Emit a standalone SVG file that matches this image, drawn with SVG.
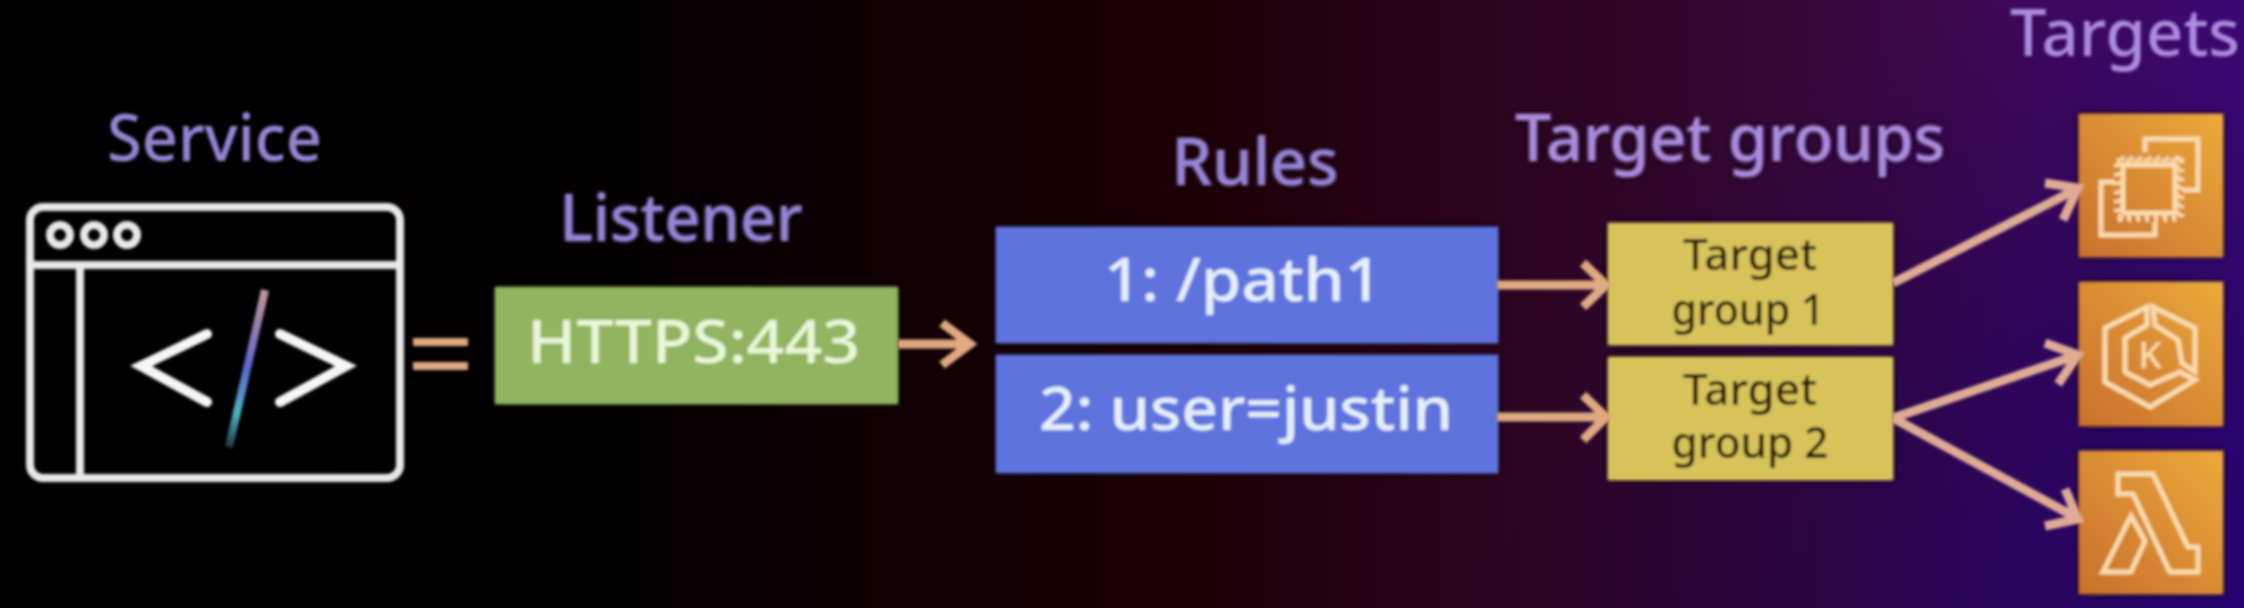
<svg xmlns="http://www.w3.org/2000/svg" width="2244" height="608" viewBox="0 0 2244 608">
<style>
text{font-family:"Noto Sans","Open Sans","Liberation Sans",sans-serif;text-anchor:middle}
.h{font-size:65px;font-weight:500;fill:#9484d4}
.hr{fill:#a98bdc}
.l{font-size:60px;font-weight:500;fill:#e6f0fb}
.t{font-size:43px;font-weight:500;fill:#1e1906}
.w{fill:none;stroke:#e8e8e8;stroke-width:8}
.c{fill:none;stroke:#f6f6f6;stroke-width:10;stroke-linecap:round;stroke-linejoin:miter}
.a{fill:none;stroke:#dfa981;stroke-width:9}
.i{fill:none;stroke:#fbdcae;stroke-width:5}
</style>
<defs>
<linearGradient id="bg" x1="0" y1="0" x2="1" y2="0">
<stop offset="0" stop-color="#000"/>
<stop offset=".27" stop-color="#030001"/>
<stop offset=".4" stop-color="#0f0003"/>
<stop offset=".53" stop-color="#1d0006"/>
<stop offset=".67" stop-color="#2b041e"/>
<stop offset=".8" stop-color="#360838"/>
<stop offset=".89" stop-color="#3d0855"/>
<stop offset="1" stop-color="#3e0876"/>
</linearGradient>
<radialGradient id="shade" gradientUnits="userSpaceOnUse" cx="2244" cy="608" r="800" gradientTransform="translate(2244 608) scale(1 .8) translate(-2244 -608)">
<stop offset="0" stop-color="#120070" stop-opacity=".55"/>
<stop offset=".5" stop-color="#10005a" stop-opacity=".32"/>
<stop offset="1" stop-color="#10004a" stop-opacity="0"/>
</radialGradient>
<linearGradient id="or" x1="0" y1="1" x2="1" y2="0">
<stop offset="0" stop-color="#c96f2b"/>
<stop offset="1" stop-color="#eba93a"/>
</linearGradient>
<linearGradient id="sl" gradientUnits="userSpaceOnUse" x1="265" y1="290" x2="229" y2="447">
<stop offset="0" stop-color="#c49aa0"/>
<stop offset=".2" stop-color="#9a80b0"/>
<stop offset=".5" stop-color="#5a68d0"/>
<stop offset=".78" stop-color="#4fb0c0"/>
<stop offset="1" stop-color="#1c3c40"/>
</linearGradient>
<filter id="s" x="-10%" y="-10%" width="120%" height="120%"><feGaussianBlur stdDeviation="1.4"/></filter>
<filter id="box" x="-10%" y="-15%" width="120%" height="130%">
<feGaussianBlur in="SourceAlpha" stdDeviation="4" result="b"/>
<feFlood flood-color="#000" flood-opacity=".85"/><feComposite in2="b" operator="in"/>
<feMerge result="sh"><feMergeNode/></feMerge>
<feGaussianBlur in="SourceGraphic" stdDeviation="1.4" result="g"/>
<feMerge><feMergeNode in="sh"/><feMergeNode in="g"/></feMerge>
</filter>
</defs>
<rect width="2244" height="608" fill="url(#bg)"/>
<rect width="2244" height="608" fill="url(#shade)"/>

<g id="service" filter="url(#s)">
<text class="h" x="214.500" y="161" textLength="215" lengthAdjust="spacingAndGlyphs">Service</text>
<rect class="w" x="30" y="207" width="370" height="271" rx="13"/>
<path class="w" d="M30 265H400M80 265V478"/>
<circle class="w" cx="60" cy="235" r="10" stroke-width="7"/>
<circle class="w" cx="94" cy="235" r="10" stroke-width="7"/>
<circle class="w" cx="127" cy="235" r="10" stroke-width="7"/>
<path class="c" d="M207 334L141 366L207 402M280 334L346 366L280 402"/>
<path d="M265 290L229 447" fill="none" stroke="url(#sl)" stroke-width="8"/>
<path d="M413 342H468M413 366H468" fill="none" stroke="#dfa981" stroke-width="8"/>
</g>

<g id="listener" filter="url(#box)">
<text class="h" x="681" y="241" textLength="243" lengthAdjust="spacingAndGlyphs">Listener</text>
<rect x="495" y="287" width="403" height="117" fill="#90b45f"/>
<text class="l" x="693.500" y="363" textLength="333" lengthAdjust="spacingAndGlyphs" style="fill:#e9f7d8">HTTPS:443</text>
</g>

<g id="rules" filter="url(#box)">
<text class="h" x="1255" y="185" textLength="167" lengthAdjust="spacingAndGlyphs">Rules</text>
<rect x="996" y="227" width="502" height="116" fill="#5f73de"/>
<rect x="996" y="355" width="502" height="118" fill="#5f73de"/>
<text class="l" x="1243" y="301" textLength="278" lengthAdjust="spacingAndGlyphs">1: /path1</text>
<text class="l" x="1246" y="430" textLength="414" lengthAdjust="spacingAndGlyphs">2: user=justin</text>
</g>

<g id="target-groups" filter="url(#box)">
<text class="h hr" x="1730" y="161" textLength="430" lengthAdjust="spacingAndGlyphs">Target groups</text>
<rect x="1608" y="223" width="285" height="122" fill="#d8c25a"/>
<rect x="1608" y="357" width="285" height="123" fill="#d8c25a"/>
<text class="t" x="1750" y="270" textLength="134" lengthAdjust="spacingAndGlyphs">Target</text>
<text class="t" x="1748" y="325" textLength="153" lengthAdjust="spacingAndGlyphs">group 1</text>
<text class="t" x="1750" y="405" textLength="134" lengthAdjust="spacingAndGlyphs">Target</text>
<text class="t" x="1750" y="458" textLength="157" lengthAdjust="spacingAndGlyphs">group 2</text>
</g>

<g id="targets-label" filter="url(#s)">
<text class="h hr" x="2125" y="56" textLength="230" lengthAdjust="spacingAndGlyphs">Targets</text>
</g>

<g id="target-ec2" filter="url(#box)">
<rect x="2079" y="114" width="144" height="143" fill="url(#or)"/>
<path class="i" d="M2145 152V139H2198V190H2183M2115 182H2101V235H2155V222"/>
<rect class="i" x="2123" y="165" width="52" height="48"/>
<rect x="2121" y="159" width="56" height="60" fill="none" stroke="#fbdcae" stroke-width="6" stroke-dasharray="3 6"/>
<rect x="2117" y="161" width="64" height="56" fill="none" stroke="#fbdcae" stroke-width="6" stroke-dasharray="3 6"/>
</g>

<g id="target-eks" filter="url(#box)">
<rect x="2079" y="282" width="144" height="144" fill="url(#or)"/>
<path class="i" d="M2147 307L2105 328V382L2150 407L2195 380L2180 372L2150 385L2125 372V338L2147 325ZM2153 307L2195 328V372L2182 363L2178 340L2155 325Z"/>
<text x="2150" y="368" style="font-size:37px;font-weight:500;fill:#fbdcae">K</text>
</g>

<g id="target-lambda" filter="url(#box)">
<rect x="2079" y="451" width="144" height="143" fill="url(#or)"/>
<path class="i" d="M2118 474H2153L2188 547H2198V572H2170L2133 494H2118ZM2131 516L2145 541L2131 572H2103Z"/>
</g>

<g id="connectors" filter="url(#s)">
<path class="a" d="M898 344H968M942 323L970 344L942 365"/>
<path class="a" d="M1497 285H1604M1583 263L1606 285L1583 307"/>
<path class="a" d="M1497 417H1604M1583 395L1606 417L1583 440"/>
<path class="a" style="stroke:#dfab94" d="M1893 283L2075 190M2045 183L2078 188L2063 220"/>
<path class="a" style="stroke:#dfab94" d="M1893 418L2075 356M2045 343L2078 355L2058 384"/>
<path class="a" style="stroke:#dfab94" d="M1893 418L2075 517M2065 489L2078 519L2045 526"/>
</g>
</svg>
